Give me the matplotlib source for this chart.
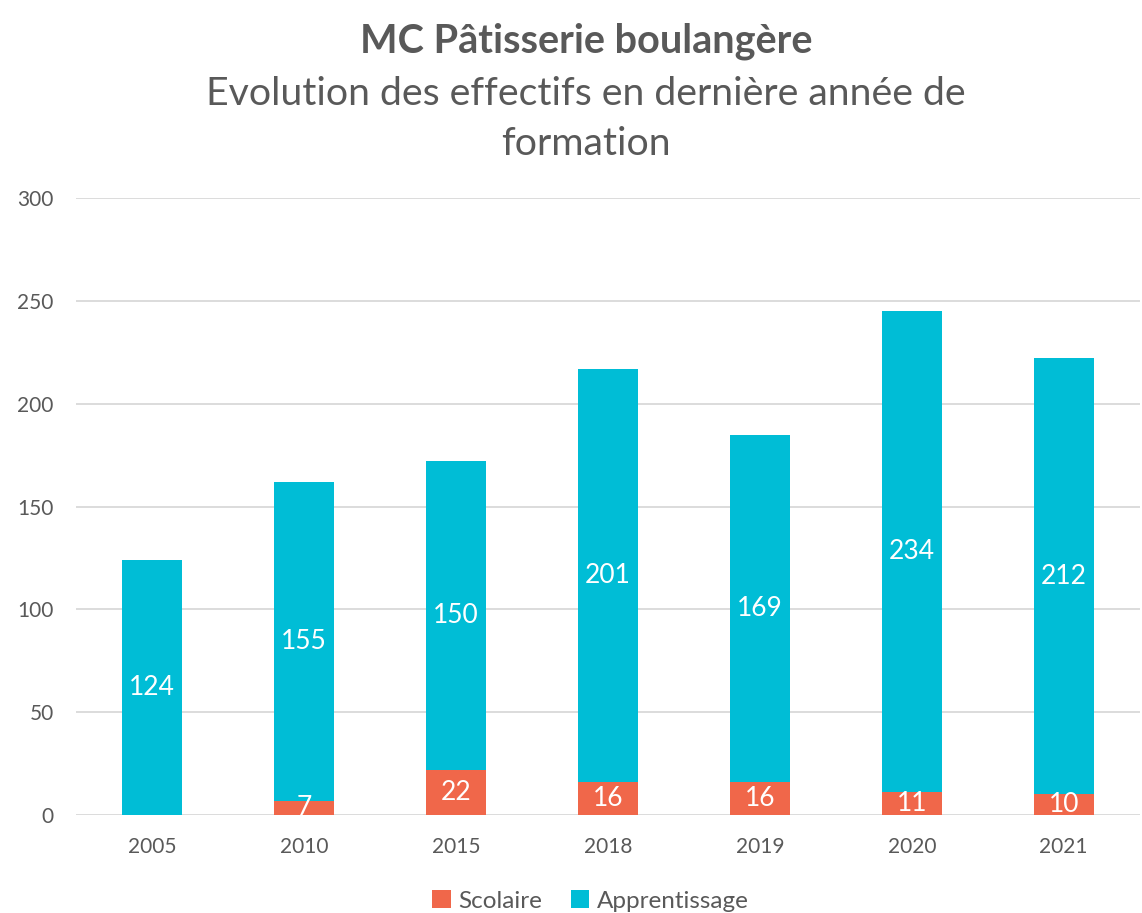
import numpy as np
import matplotlib.pyplot as plt

plt.rcParams['font.family'] = ['Lato', 'DejaVu Sans']

years = ['2005', '2010', '2015', '2018', '2019', '2020', '2021']
scolaire = [0, 7, 22, 16, 16, 11, 10]
apprentissage = [124, 155, 150, 201, 169, 234, 212]

c_scol = '#F0674A'
c_app = '#00BDD6'
txt = '#595959'

fig = plt.figure(figsize=(11.42, 9.13), dpi=100)
ax = fig.add_axes([0.0666, 0.1073, 0.9314, 0.6758])

x = np.arange(len(years))
w = 0.395
b1 = ax.bar(x, scolaire, w, color=c_scol, label='Scolaire', zorder=3)
b2 = ax.bar(x, apprentissage, w, bottom=scolaire, color=c_app,
            label='Apprentissage', zorder=3)

for xi, s, a in zip(x, scolaire, apprentissage):
    if s > 0:
        ax.text(xi, s / 2, str(s), ha='center', va='center', color='white',
                fontsize=19, zorder=4)
    ax.text(xi, s + a / 2, str(a), ha='center', va='center', color='white',
            fontsize=19, zorder=4)

ax.set_xlim(-0.5, len(years) - 0.5)
ax.set_ylim(0, 300)
ax.set_yticks(range(0, 301, 50))
ax.set_xticks(x)
ax.set_xticklabels(years)
ax.tick_params(axis='both', length=0, labelsize=15, colors=txt)
ax.tick_params(axis='x', pad=16)
ax.tick_params(axis='y', pad=16)
ax.grid(axis='y', color='#D9D9D9', linewidth=1.3, zorder=0)
for s in ax.spines.values():
    s.set_visible(False)

fig.text(0.513, 0.943, 'MC Pâtisserie boulangère', ha='center', va='baseline',
         fontsize=28.5, fontweight='bold', color=txt)
fig.text(0.513, 0.885, 'Evolution des effectifs en dernière année de',
         ha='center', va='baseline', fontsize=28.3, color=txt)
fig.text(0.513, 0.830, 'formation', ha='center', va='baseline',
         fontsize=28.3, color=txt)

fig.legend(handles=[b1, b2], loc='center', bbox_to_anchor=(0.517, 0.013),
           ncol=2, frameon=False, fontsize=17.5, labelcolor=txt,
           handlelength=0.75, handleheight=0.75, handletextpad=0.3,
           columnspacing=1.2)

fig.savefig('out.png', dpi=100)
